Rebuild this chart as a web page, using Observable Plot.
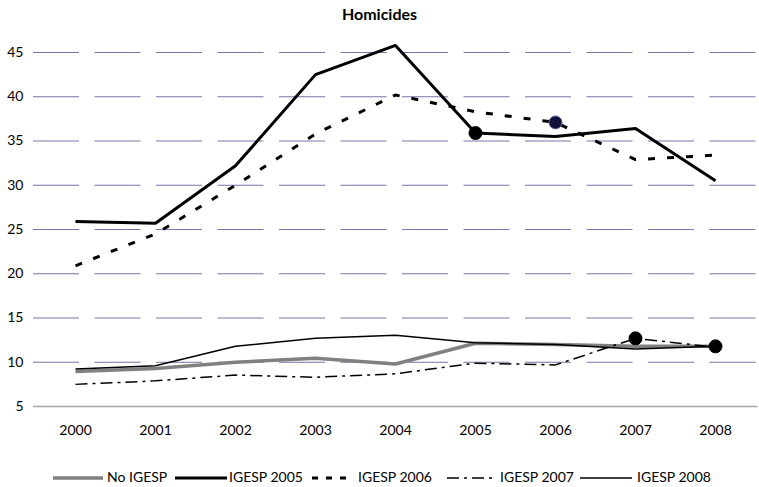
<!DOCTYPE html>
<html>
<head>
<meta charset="utf-8">
<script src="https://cdn.jsdelivr.net/npm/d3@7"></script>
<script src="https://cdn.jsdelivr.net/npm/@observablehq/plot@0.6"></script>
<style>
  body { margin: 0; background: #fff; font-family: Lato, "Open Sans", sans-serif; }
  #wrap { width: 759px; position: relative; }
  #title { height: 26px; box-sizing: border-box; padding-top: 5px; text-align: center; font-weight: bold; font-size: 16px; line-height: 18px; color: #000; padding-right: 0px; }
  #legend { height: 35px; position: relative; font-size: 14px; color: #000; }
  .item { position: absolute; top: 14px; display: flex; align-items: center; height: 16px; }
  .item svg { display: block; margin-right: 3px; }
</style>
</head>
<body>
<div id="wrap">
  <div id="title">Homicides</div>
  <div id="chart"></div>
  <div id="legend"></div>
</div>
<script>
const years = ["2000", "2001", "2002", "2003", "2004", "2005", "2006", "2007", "2008"];
const yTicks = [5, 10, 15, 20, 25, 30, 35, 40, 45];
const seriesNames = ["No IGESP", "IGESP 2005", "IGESP 2006", "IGESP 2007", "IGESP 2008"];
const noIgesp   = [8.95, 9.3, 10.0, 10.45, 9.8, 12.15, 12.0, 11.8, 11.8];
const igesp2005 = [25.9, 25.7, 32.2, 42.5, 45.8, 35.9, 35.5, 36.4, 30.5];
const igesp2006 = [20.9, 24.5, 30.0, 35.8, 40.2, 38.3, 37.1, 32.9, 33.4];
const igesp2007 = [7.5, 7.9, 8.55, 8.3, 8.7, 9.9, 9.7, 12.7, 11.7];
const igesp2008 = [9.25, 9.6, 11.8, 12.7, 13.05, 12.2, 12.0, 11.5, 11.8];
const startYears = ["2005", "2006", "2007", "2008"];

const styles = [
  {stroke: "#808080", strokeWidth: 3.5, dash: null},
  {stroke: "#000", strokeWidth: 3, dash: null},
  {stroke: "#000", strokeWidth: 3, dash: "7,12"},
  {stroke: "#000", strokeWidth: 1.5, dash: "12,5,3,5"},
  {stroke: "#000", strokeWidth: 1.5, dash: null}
];
const allSeries = [noIgesp, igesp2005, igesp2006, igesp2007, igesp2008];
const rows = allSeries.map(vals => years.map((y, i) => ({year: y, v: vals[i]})));

const dots = startYears.map((yr, k) => {
  const i = years.indexOf(yr);
  return {year: yr, v: allSeries[k + 1][i], k};
});

const lineMarks = rows.map((data, k) => Plot.line(data, {
  x: "year", y: "v",
  stroke: styles[k].stroke,
  strokeWidth: styles[k].strokeWidth,
  strokeDasharray: styles[k].dash,
  strokeLinejoin: "miter",
  strokeLinecap: "butt"
}));

const chart = Plot.plot({
  width: 759,
  height: 426,
  marginTop: 26,
  marginBottom: 46,
  marginLeft: 33,
  marginRight: 1.5,
  style: {fontFamily: "Lato, 'Open Sans', sans-serif", fontSize: "14px", color: "#000", background: "#fff"},
  x: {type: "point", domain: years, padding: 0.5, label: null},
  y: {domain: [5, 45], label: null},
  marks: [
    Plot.ruleY(yTicks.filter(t => t > 5), {y: d => d, stroke: "#7676a8", strokeWidth: 1, strokeDasharray: "46,15.5"}),
    Plot.ruleY([5], {y: d => d, stroke: "#a6a6a6", strokeWidth: 1.3}),
    Plot.axisY(yTicks, {tickSize: 0, tickPadding: 10, fontSize: 14, label: null}),
    Plot.axisX(years, {tickSize: 0, tickPadding: 19, fontSize: 14, label: null}),
    ...lineMarks,
    Plot.dot(dots, {x: "year", y: "v", r: 6.5, fill: d => d.k === 1 ? "#10103a" : "#000", stroke: d => d.k === 1 ? "#6a6aa0" : "#000", strokeWidth: 1})
  ]
});
document.getElementById("chart").appendChild(chart);

// legend
const legendPos = [
  {sx: 53, sw: 50, tx: 107},
  {sx: 175, sw: 52, tx: 229},
  {sx: 312, sw: 42, tx: 358},
  {sx: 447, sw: 47, tx: 500},
  {sx: 580, sw: 52, tx: 637}
];
const legend = document.getElementById("legend");
seriesNames.forEach((name, k) => {
  const p = legendPos[k];
  const sw = document.createElementNS("http://www.w3.org/2000/svg", "svg");
  sw.setAttribute("width", p.sw);
  sw.setAttribute("height", 10);
  sw.style.position = "absolute";
  sw.style.left = p.sx + "px";
  sw.style.top = "21px";
  const ln = document.createElementNS("http://www.w3.org/2000/svg", "line");
  ln.setAttribute("x1", 0); ln.setAttribute("x2", p.sw);
  ln.setAttribute("y1", 5); ln.setAttribute("y2", 5);
  ln.setAttribute("stroke", styles[k].stroke);
  ln.setAttribute("stroke-width", styles[k].strokeWidth);
  if (styles[k].dash) ln.setAttribute("stroke-dasharray", k === 2 ? "6,8" : styles[k].dash);
  sw.appendChild(ln);
  legend.appendChild(sw);
  const t = document.createElement("div");
  t.textContent = name;
  t.style.position = "absolute";
  t.style.left = p.tx + "px";
  t.style.top = "17px";
  t.style.lineHeight = "16px";
  legend.appendChild(t);
});
</script>
</body>
</html>
